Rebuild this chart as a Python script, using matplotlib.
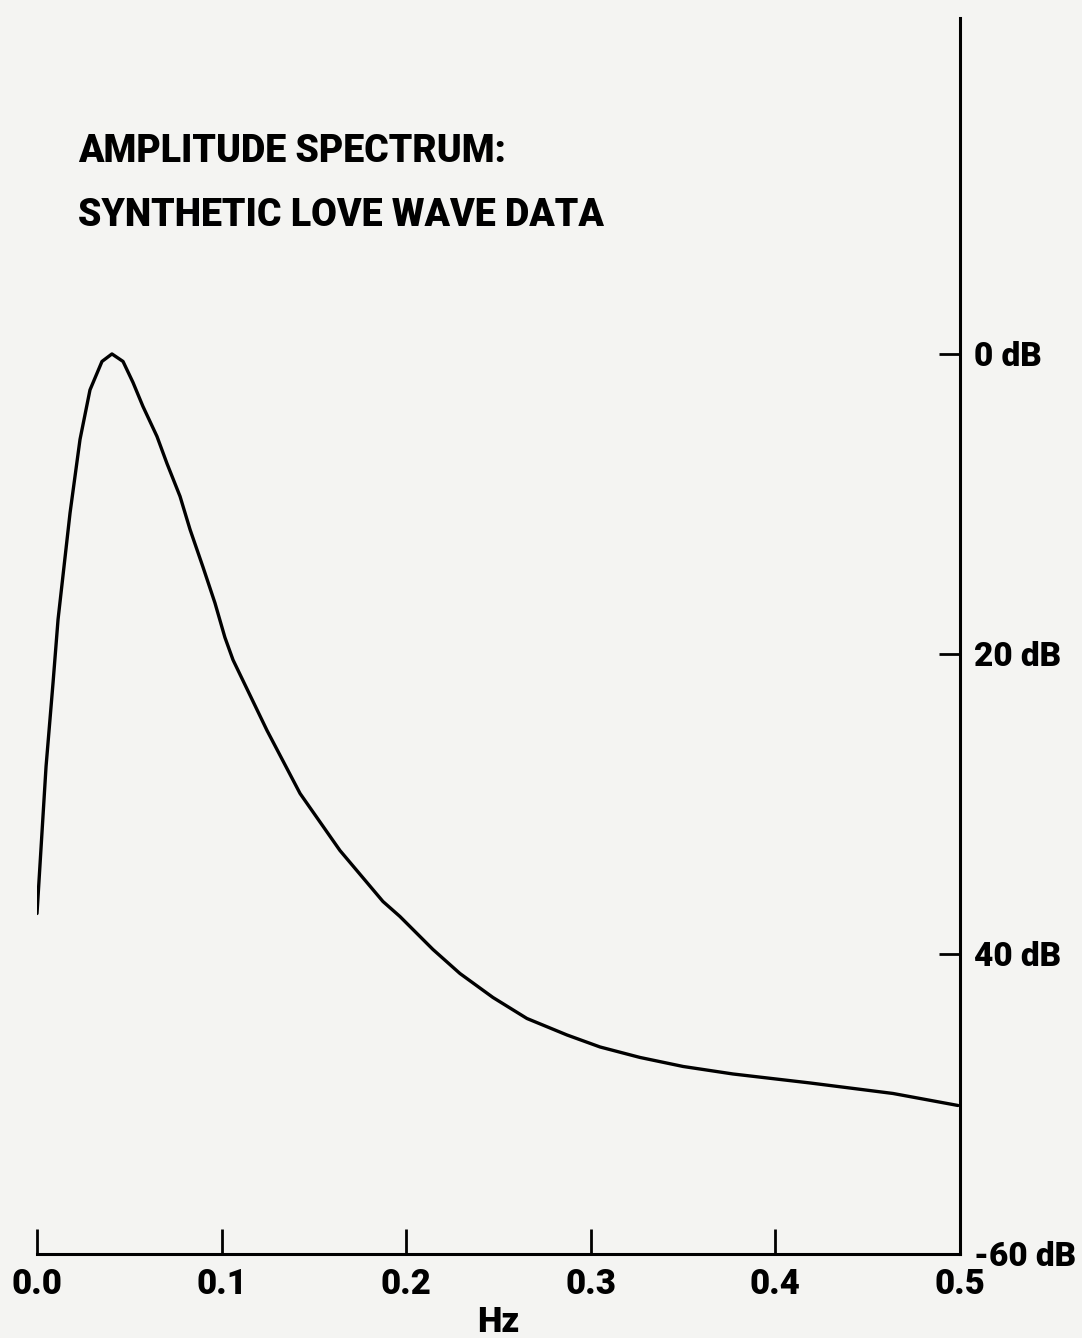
import matplotlib
matplotlib.use("Agg")
import matplotlib.pyplot as plt

# Đường cong phổ biên độ (Hz, dB suy giảm)
freq_hz = [0.0, 0.0049, 0.0087, 0.0114, 0.0179, 0.0233, 0.0287, 0.0352, 0.0406,
           0.0466, 0.0520, 0.0574, 0.0650, 0.0704, 0.0775, 0.0829, 0.0899, 0.0964,
           0.1018, 0.1062, 0.1246, 0.1425, 0.1641, 0.1874, 0.1966, 0.2145, 0.2291,
           0.2470, 0.2654, 0.2871, 0.3050, 0.3267, 0.3500, 0.3770, 0.4188, 0.4637,
           0.4989]
level_db = [37.3, 27.5, 21.9, 17.7, 10.6, 5.7, 2.4, 0.5, 0.0,
            0.5, 1.9, 3.5, 5.5, 7.3, 9.5, 11.7, 14.2, 16.6,
            18.9, 20.4, 25.1, 29.3, 33.1, 36.5, 37.5, 39.7, 41.3,
            42.9, 44.3, 45.4, 46.2, 46.9, 47.5, 48.0, 48.6, 49.3,
            50.1]

x_ticks = [0.0, 0.1, 0.2, 0.3, 0.4, 0.5]
x_labels = ["0.0", "0.1", "0.2", "0.3", "0.4", "0.5"]
y_ticks = [0, 20, 40, 60]
y_labels = ["0 dB", "20 dB", "40 dB", "-60 dB"]

title_lines = ["AMPLITUDE SPECTRUM:", "SYNTHETIC LOVE WAVE DATA"]

plt.rcParams["font.family"] = ["Roboto", "DejaVu Sans"]
plt.rcParams["font.weight"] = "heavy"

bg = "#f4f4f2"
fig = plt.figure(figsize=(10.82, 13.38), dpi=100, facecolor=bg)
ax = fig.add_axes([0.0342, 0.0628, 0.853, 0.9238])
ax.set_facecolor(bg)

ax.plot(freq_hz, level_db, color="black", linewidth=2.4,
        solid_joinstyle="round", solid_capstyle="round")

ax.set_xlim(0.0, 0.5)
ax.set_ylim(60, -22.4)  # trục dB đi xuống

for s in ["top", "left"]:
    ax.spines[s].set_visible(False)
for s in ["bottom", "right"]:
    ax.spines[s].set_linewidth(2.2)

ax.set_xticks(x_ticks)
ax.set_xticklabels(x_labels)
ax.tick_params(axis="x", direction="in", length=18, width=2.0, pad=10,
               labelsize=25)

ax.yaxis.tick_right()
ax.set_yticks(y_ticks)
ax.set_yticklabels(y_labels)
ax.tick_params(axis="y", direction="in", length=15, width=2.0, pad=10,
               labelsize=24)

ax.set_xlabel("Hz", fontsize=25, fontweight="heavy", labelpad=4)

fig.text(78 / 1082, 1 - 152 / 1338, title_lines[0], fontsize=27,
         fontweight="heavy", va="center", ha="left")
fig.text(78 / 1082, 1 - 215 / 1338, title_lines[1], fontsize=27,
         fontweight="heavy", va="center", ha="left")

fig.savefig("out.png", dpi=100, facecolor=bg)
